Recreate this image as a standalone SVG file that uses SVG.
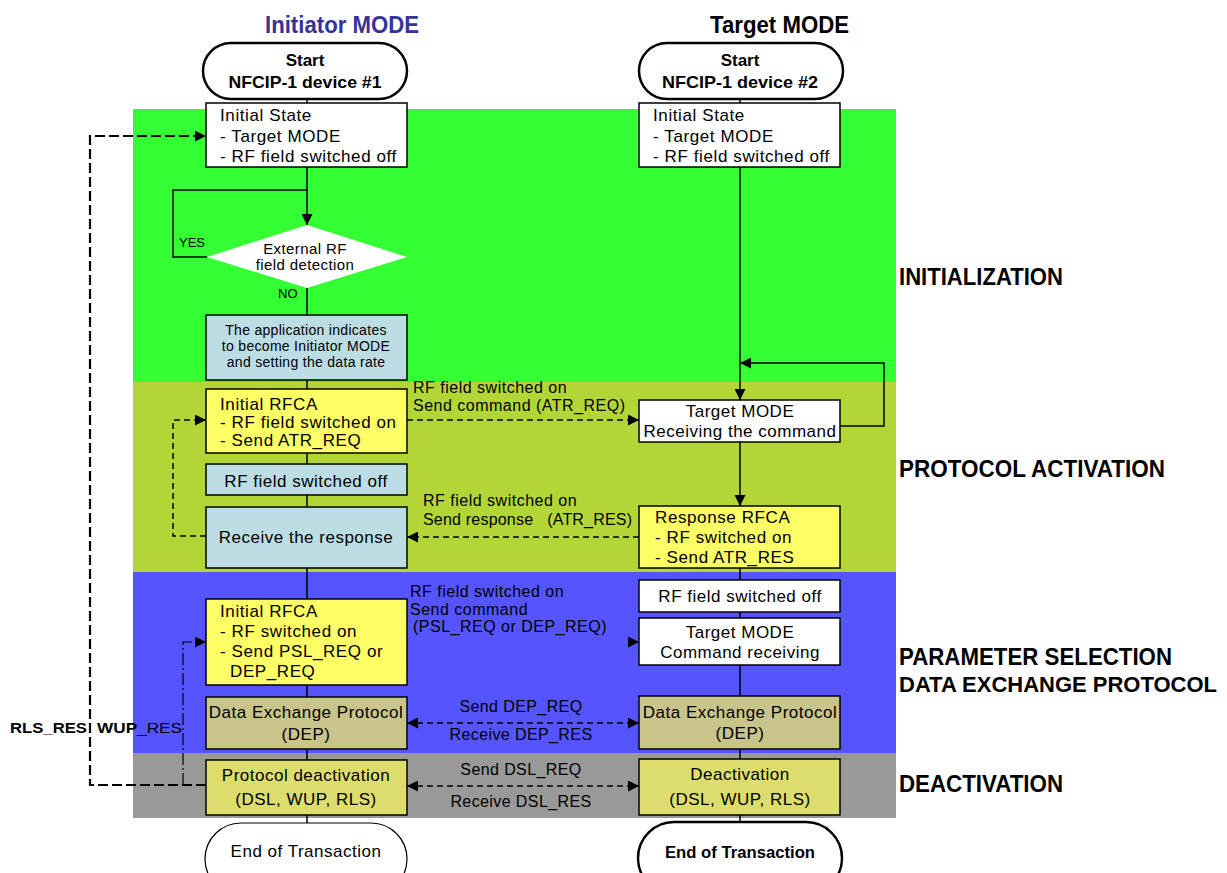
<svg xmlns="http://www.w3.org/2000/svg" width="1227" height="873" viewBox="0 0 1227 873">
  <defs>
    <marker id="arrow" viewBox="0 0 10 10" refX="10" refY="5" markerWidth="11" markerHeight="11" markerUnits="userSpaceOnUse" orient="auto-start-reverse">
      <path d="M0,0 L10,5 L0,10 z" fill="#000"/>
    </marker>
    <style>
      text { font-family: "Liberation Sans", Arial, sans-serif; fill: #000; }
      .box { stroke: #000; stroke-width: 1.5; }
      .white { fill: #fff; }
      .yellow { fill: #ffff66; }
      .cyan { fill: #bbdde3; }
      .khaki { fill: #c8c48a; }
      .deact { fill: #dddd6e; }
      .t { font-size: 17px; letter-spacing: 0.6px; }
      .tc { font-size: 17px; letter-spacing: 0.5px; text-anchor: middle; }
      .small { font-size: 14px; letter-spacing: 0.3px; text-anchor: middle; }
      .lbl { font-size: 16px; letter-spacing: 0.5px; }
      .lblc { font-size: 16px; letter-spacing: 0.4px; text-anchor: middle; }
      .phase { font-size: 24px; font-weight: bold; }
      .title { font-size: 24px; font-weight: bold; }
      .pill { fill: #fff; stroke: #000; stroke-width: 2.5; }
      .pillb { font-size: 17px; font-weight: bold; text-anchor: middle; }
      .flow { fill: none; stroke: #000; stroke-width: 1.5; }
      .dash { fill: none; stroke: #000; stroke-width: 1.5; stroke-dasharray: 6 4; }
    </style>
  </defs>

  <!-- phase bands -->
  <g id="bands">
    <rect x="133" y="109" width="763" height="273" fill="#33ff33"/>
    <rect x="133" y="382" width="763" height="190" fill="#b2d636"/>
    <rect x="133" y="572" width="763" height="181" fill="#5555ff"/>
    <rect x="133" y="753" width="763" height="65" fill="#999999"/>
  </g>

  <!-- column titles -->
  <text x="265" y="33" class="title" style="fill:#333399" textLength="154" lengthAdjust="spacingAndGlyphs">Initiator MODE</text>
  <text x="710" y="33" class="title" textLength="139" lengthAdjust="spacingAndGlyphs">Target MODE</text>

  <!-- phase labels -->
  <text x="899" y="285" class="phase" textLength="164" lengthAdjust="spacingAndGlyphs">INITIALIZATION</text>
  <text x="899" y="477" class="phase" textLength="266" lengthAdjust="spacingAndGlyphs">PROTOCOL ACTIVATION</text>
  <text x="899" y="665" class="phase" textLength="273" lengthAdjust="spacingAndGlyphs">PARAMETER SELECTION</text>
  <text x="899" y="692" class="phase" font-size="22" style="font-size:22px" textLength="318" lengthAdjust="spacingAndGlyphs">DATA EXCHANGE PROTOCOL</text>
  <text x="899" y="792" class="phase" textLength="164" lengthAdjust="spacingAndGlyphs">DEACTIVATION</text>

  <!-- connectors -->
  <g id="connectors">
    <!-- initiator column -->
    <line class="flow" x1="307" y1="99" x2="307" y2="103"/>
    <line class="flow" x1="307" y1="167" x2="307" y2="225" marker-end="url(#arrow)"/>
    <polyline class="flow" points="307,190 173,190 173,257 207,257"/>
    <line class="flow" x1="307" y1="288" x2="307" y2="315"/>
    <line class="flow" x1="307" y1="380" x2="307" y2="389"/>
    <line class="flow" x1="307" y1="453" x2="307" y2="464"/>
    <line class="flow" x1="307" y1="495" x2="307" y2="507"/>
    <line class="flow" x1="307" y1="568" x2="307" y2="599"/>
    <line class="flow" x1="307" y1="685" x2="307" y2="697"/>
    <line class="flow" x1="307" y1="749" x2="307" y2="760"/>
    <line class="flow" x1="307" y1="815" x2="307" y2="823"/>
    <polyline class="dash" points="206,536 173,536 173,420 206,420" marker-end="url(#arrow)"/>

    <!-- target column -->
    <line class="flow" x1="740" y1="99" x2="740" y2="103"/>
    <line class="flow" x1="740" y1="167" x2="740" y2="400" marker-end="url(#arrow)"/>
    <polyline class="flow" points="840,426 884,426 884,363 740,363" marker-end="url(#arrow)"/>
    <line class="flow" x1="740" y1="442" x2="740" y2="506" marker-end="url(#arrow)"/>
    <line class="flow" x1="740" y1="568" x2="740" y2="580"/>
    <line class="flow" x1="740" y1="612" x2="740" y2="618"/>
    <line class="flow" x1="740" y1="665" x2="740" y2="696"/>
    <line class="flow" x1="740" y1="749" x2="740" y2="759"/>
    <line class="flow" x1="740" y1="815" x2="740" y2="822"/>

    <!-- exchanges between devices -->
    <line class="dash" x1="407" y1="420" x2="639" y2="420" marker-end="url(#arrow)"/>
    <line class="dash" x1="639" y1="537" x2="407" y2="537" marker-end="url(#arrow)"/>
    <line class="flow" x1="630" y1="642" x2="639" y2="642" stroke="none" marker-end="url(#arrow)"/>
    <line class="dash" x1="407" y1="723" x2="639" y2="723" marker-start="url(#arrow)" marker-end="url(#arrow)"/>
    <line class="dash" x1="407" y1="786" x2="639" y2="786" marker-start="url(#arrow)" marker-end="url(#arrow)"/>

    <!-- release / wake-up returns -->
    <polyline points="206,785 90,785 90,136 206,136" fill="none" stroke="#000" stroke-width="2.2" stroke-dasharray="10 4" marker-end="url(#arrow)"/>
    <polyline points="183,785 183,642 206,642" fill="none" stroke="#000" stroke-width="1.2" stroke-dasharray="12 3 2 3" marker-end="url(#arrow)"/>
  </g>

  <!-- exchange labels -->
  <text x="413" y="393" class="lbl">RF field switched on</text>
  <text x="413" y="411" class="lbl">Send command (ATR_REQ)</text>
  <text x="423" y="506" class="lbl">RF field switched on</text>
  <text x="423" y="525" class="lbl" letter-spacing="0.2" style="letter-spacing:0.2px" xml:space="preserve">Send response   (ATR_RES)</text>
  <text x="410" y="597" class="lbl">RF field switched on</text>
  <text x="410" y="615" class="lbl">Send command</text>
  <text x="413" y="632" class="lbl">(PSL_REQ or DEP_REQ)</text>
  <text x="521" y="712" class="lblc">Send DEP_REQ</text>
  <text x="521" y="740" class="lblc">Receive DEP_RES</text>
  <text x="521" y="775" class="lblc">Send DSL_REQ</text>
  <text x="521" y="807" class="lblc">Receive DSL_RES</text>
  <text x="10" y="733" font-size="15" font-weight="bold" textLength="77" lengthAdjust="spacingAndGlyphs">RLS_RES</text>
  <text x="97" y="733" font-size="15" font-weight="bold" textLength="85" lengthAdjust="spacingAndGlyphs">WUP<tspan font-weight="normal">_RES</tspan></text>

  <!-- initiator nodes -->
  <g id="start-1">
    <rect class="pill" x="203" y="43" width="204" height="56" rx="28"/>
    <text x="305" y="66" class="pillb">Start</text>
    <text x="305" y="88" class="pillb" textLength="153" lengthAdjust="spacingAndGlyphs">NFCIP-1 device #1</text>
  </g>
  <g id="init-state-1">
    <rect class="box white" x="206" y="103" width="201" height="64"/>
    <text x="220" y="121" class="t">Initial State</text>
    <text x="220" y="142" class="t">- Target MODE</text>
    <text x="220" y="162" class="t">- RF field switched off</text>
  </g>
  <g id="rf-detect">
    <polygon points="307,225 407,257 307,288 207,257" fill="#fff"/>
    <text x="305" y="254" font-size="15" letter-spacing="0.4" text-anchor="middle">External RF</text>
    <text x="305" y="270" font-size="15" letter-spacing="0.4" text-anchor="middle">field detection</text>
    <text x="179" y="247" font-size="13">YES</text>
    <text x="278" y="298" font-size="13">NO</text>
  </g>
  <g id="become-initiator">
    <rect class="box cyan" x="206" y="315" width="201" height="65"/>
    <text x="306" y="335" class="small">The application indicates</text>
    <text x="306" y="351" class="small">to become Initiator MODE</text>
    <text x="306" y="367" class="small">and setting the data rate</text>
  </g>
  <g id="rfca-1">
    <rect class="box yellow" x="206" y="389" width="201" height="64"/>
    <text x="220" y="410" class="t">Initial RFCA</text>
    <text x="220" y="428" class="t">- RF field switched on</text>
    <text x="220" y="446" class="t">- Send ATR_REQ</text>
  </g>
  <g id="rf-off-1">
    <rect class="box cyan" x="206" y="464" width="201" height="31"/>
    <text x="306" y="487" class="tc" font-size="18">RF field switched off</text>
  </g>
  <g id="receive-response">
    <rect class="box cyan" x="206" y="507" width="201" height="61"/>
    <text x="306" y="543" class="tc">Receive the response</text>
  </g>
  <g id="rfca-2">
    <rect class="box yellow" x="206" y="599" width="201" height="86"/>
    <text x="220" y="617" class="t">Initial RFCA</text>
    <text x="220" y="637" class="t">- RF switched on</text>
    <text x="220" y="657" class="t">- Send PSL_REQ or</text>
    <text x="230" y="677" class="t">DEP_REQ</text>
  </g>
  <g id="dep-1">
    <rect class="box khaki" x="206" y="697" width="201" height="52"/>
    <text x="306" y="718" class="tc">Data Exchange Protocol</text>
    <text x="306" y="740" class="tc">(DEP)</text>
  </g>
  <g id="deact-1">
    <rect class="box deact" x="206" y="760" width="201" height="55"/>
    <text x="306" y="781" class="tc">Protocol deactivation</text>
    <text x="306" y="805" class="tc" font-size="18">(DSL, WUP, RLS)</text>
  </g>
  <g id="end-1">
    <rect x="205" y="823" width="202" height="72" rx="36" fill="#fff" stroke="#000" stroke-width="1.2"/>
    <text x="306" y="857" class="tc" font-size="18">End of Transaction</text>
  </g>

  <!-- target nodes -->
  <g id="start-2">
    <rect class="pill" x="639" y="43" width="204" height="56" rx="28"/>
    <text x="740" y="66" class="pillb">Start</text>
    <text x="740" y="88" class="pillb" textLength="156" lengthAdjust="spacingAndGlyphs">NFCIP-1 device #2</text>
  </g>
  <g id="init-state-2">
    <rect class="box white" x="639" y="103" width="201" height="64"/>
    <text x="653" y="121" class="t">Initial State</text>
    <text x="653" y="142" class="t">- Target MODE</text>
    <text x="653" y="162" class="t">- RF field switched off</text>
  </g>
  <g id="target-receive">
    <rect class="box white" x="639" y="400" width="201" height="42"/>
    <text x="740" y="417" class="tc">Target MODE</text>
    <text x="740" y="437" class="tc">Receiving the command</text>
  </g>
  <g id="response-rfca">
    <rect class="box yellow" x="639" y="506" width="201" height="62"/>
    <text x="655" y="523" class="t">Response RFCA</text>
    <text x="655" y="543" class="t">- RF switched on</text>
    <text x="655" y="563" class="t">- Send ATR_RES</text>
  </g>
  <g id="rf-off-2">
    <rect class="box white" x="639" y="580" width="201" height="32"/>
    <text x="740" y="602" class="tc">RF field switched off</text>
  </g>
  <g id="target-command">
    <rect class="box white" x="639" y="618" width="201" height="47"/>
    <text x="740" y="638" class="tc">Target MODE</text>
    <text x="740" y="658" class="tc">Command receiving</text>
  </g>
  <g id="dep-2">
    <rect class="box khaki" x="639" y="696" width="201" height="53"/>
    <text x="740" y="718" class="tc">Data Exchange Protocol</text>
    <text x="740" y="739" class="tc">(DEP)</text>
  </g>
  <g id="deact-2">
    <rect class="box deact" x="639" y="759" width="201" height="56"/>
    <text x="740" y="780" class="tc">Deactivation</text>
    <text x="740" y="805" class="tc" font-size="18">(DSL, WUP, RLS)</text>
  </g>
  <g id="end-2">
    <rect class="pill" x="638" y="822" width="204" height="72" rx="36"/>
    <text x="740" y="858" class="pillb" textLength="150" lengthAdjust="spacingAndGlyphs">End of Transaction</text>
  </g>
</svg>
